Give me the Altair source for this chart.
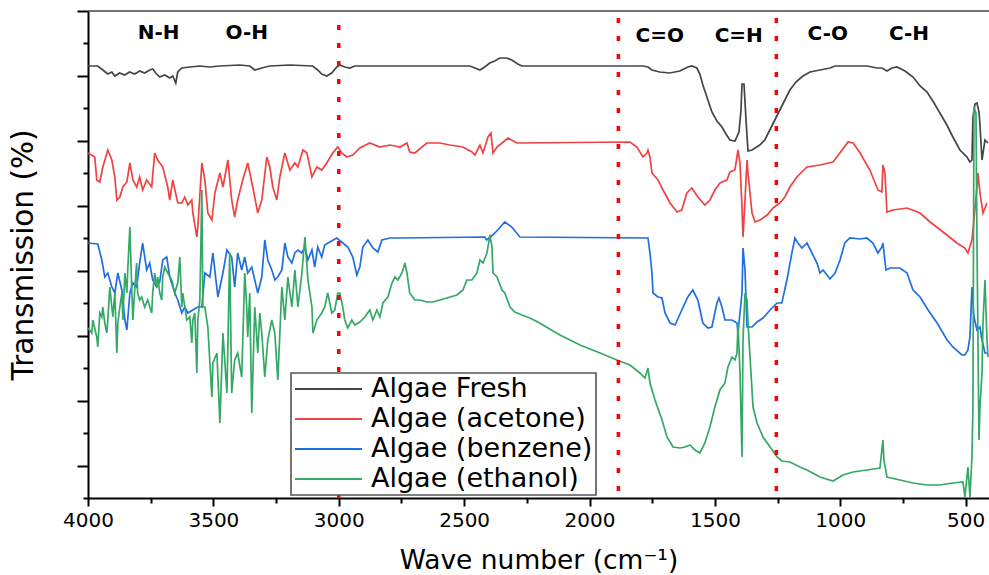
import altair as alt
import pandas as pd

# ---------------- data ----------------
SERIES = ["Algae Fresh", "Algae (acetone)", "Algae (benzene)", "Algae (ethanol)"]
COLORS = ["#454545", "#ef4242", "#1f6fe0", "#34a866"]

FRESH_WN = [4000, 3961, 3941, 3921, 3905, 3893, 3874, 3854, 3834, 3814, 3794, 3774, 3754, 3742, 3730, 3714,
            3694, 3674, 3662, 3650, 3642, 3626, 3594, 3554, 3515, 3475, 3395, 3355, 3335, 3307, 3275, 3195,
            3104, 3084, 3068, 3048, 3028, 3008, 2996, 2976, 2956, 2936, 2477, 2457, 2437, 2418, 2398, 2378,
            2358, 2330, 2310, 2286, 2270, 1787, 1767, 1751, 1720, 1680, 1640, 1608, 1592, 1572, 1560, 1548,
            1532, 1512, 1492, 1472, 1456, 1440, 1420, 1404, 1396, 1392, 1384, 1376, 1368, 1352, 1321, 1301,
            1281, 1261, 1241, 1221, 1201, 1177, 1149, 1121, 1081, 1041, 1021, 894, 854, 834, 814, 794, 774,
            742, 710, 682, 654, 626, 603, 575, 551, 523, 495, 483, 475, 471, 463, 455, 447, 443, 435, 423, 411]
FRESH_T = [432, 432, 428, 424, 426, 422, 425, 423, 426, 424, 427, 425, 428, 429, 425, 421,
           423, 420, 422, 415, 426, 430, 431, 432, 431, 432, 433, 432, 428, 430, 432, 433,
           432, 428, 424, 422, 425, 431, 433, 431, 430, 432, 432, 430, 428, 431, 435, 437,
           440, 440, 438, 434, 432, 432, 431, 428, 426, 425, 427, 431, 432, 430, 424, 413,
           401, 386, 377, 371, 364, 358, 357, 366, 388, 414, 414, 378, 347, 348, 353, 358,
           368, 378, 388, 398, 408, 416, 422, 426, 428, 430, 432, 432, 430, 430, 427, 430, 431,
           427, 421, 412, 406, 395, 385, 373, 361, 348, 341, 336, 338, 381, 394, 395, 386, 373, 338, 358, 355]

ACET_WN = [4000, 3973, 3965, 3953, 3941, 3929, 3921, 3905, 3893, 3885, 3873, 3861, 3845, 3833, 3821, 3806,
           3794, 3782, 3766, 3746, 3734, 3722, 3702, 3682, 3674, 3662, 3642, 3626, 3614, 3602, 3586, 3582,
           3566, 3562, 3546, 3534, 3522, 3506, 3494, 3474, 3462, 3442, 3427, 3415, 3403, 3383, 3363, 3343,
           3323, 3307, 3287, 3275, 3263, 3247, 3235, 3215, 3195, 3175, 3163, 3143, 3127, 3107, 3087, 3068,
           3048, 3024, 3004, 2988, 2968, 2944, 2916, 2876, 2836, 2796, 2756, 2728, 2717, 2697, 2649, 2597,
           2557, 2505, 2469, 2457, 2437, 2425, 2405, 2393, 2385, 2369, 2349, 2325, 2290, 1839, 1811, 1787,
           1771, 1767, 1759, 1751, 1727, 1707, 1679, 1651, 1632, 1612, 1592, 1568, 1540, 1520, 1500, 1480,
           1452, 1440, 1420, 1408, 1400, 1392, 1388, 1380, 1372, 1368, 1352, 1340, 1320, 1292, 1268, 1241,
           1221, 1201, 1173, 1133, 1081, 1029, 993, 969, 949, 921, 882, 850, 834, 830, 822, 814, 790, 734,
           682, 642, 590, 535, 503, 491, 475, 467, 455, 451, 443, 431, 415]
ACET_T = [345, 341, 318, 316, 331, 341, 348, 338, 321, 298, 301, 311, 316, 335, 318, 311,
          321, 308, 318, 311, 345, 338, 331, 311, 298, 318, 295, 295, 301, 293, 298, 285,
          261, 271, 335, 318, 285, 278, 305, 325, 311, 338, 298, 281, 298, 318, 335, 311,
          285, 298, 341, 331, 311, 298, 321, 345, 328, 335, 331, 348, 345, 321, 331, 328,
          335, 345, 351, 345, 341, 343, 350, 355, 351, 353, 351, 355, 346, 345, 355, 355,
          353, 351, 346, 343, 353, 345, 361, 365, 345, 351, 355, 360, 355, 356, 351, 341,
          345, 348, 341, 325, 318, 308, 295, 286, 288, 305, 310, 301, 293, 298, 308, 315,
          318, 326, 328, 348, 335, 291, 261, 298, 338, 325, 285, 276, 278, 283, 290, 295,
          301, 311, 321, 331, 333, 336, 348, 356, 355, 345, 328, 308, 306, 333, 325, 286, 288, 290,
          285, 276, 266, 255, 250, 245, 258, 278, 311, 325, 305, 285, 295]

BENZ_WN = [4000, 3961, 3945, 3933, 3921, 3905, 3893, 3881, 3865, 3853, 3845, 3833, 3821, 3806, 3794, 3782,
           3766, 3754, 3742, 3726, 3714, 3702, 3686, 3674, 3654, 3642, 3626, 3614, 3602, 3582, 3562, 3546,
           3534, 3514, 3502, 3482, 3462, 3446, 3427, 3415, 3403, 3387, 3375, 3363, 3347, 3335, 3323, 3307,
           3295, 3283, 3267, 3255, 3243, 3227, 3215, 3203, 3187, 3175, 3163, 3147, 3135, 3123, 3107, 3096,
           3084, 3068, 3056, 3036, 3008, 2984, 2964, 2944, 2928, 2916, 2904, 2884, 2864, 2844, 2828, 2796,
           2756, 2418, 2410, 2386, 2366, 2338, 2310, 2278, 1767, 1759, 1751, 1747, 1727, 1711, 1699, 1679,
           1659, 1632, 1608, 1588, 1568, 1548, 1528, 1512, 1492, 1484, 1472, 1460, 1432, 1412, 1408, 1392,
           1388, 1380, 1372, 1352, 1332, 1308, 1280, 1252, 1233, 1213, 1193, 1181, 1169, 1153, 1133, 1113,
           1093, 1081, 1069, 1053, 1041, 1021, 1001, 982, 962, 922, 894, 870, 850, 834, 830, 818, 802, 762,
           734, 710, 682, 650, 614, 574, 551, 515, 503, 491, 483, 475, 467, 455, 443, 435, 423, 411]
BENZ_T = [255, 254, 238, 221, 225, 211, 205, 225, 208, 178, 168, 205, 215, 211, 235, 255,
          228, 235, 218, 211, 216, 238, 241, 221, 205, 198, 185, 191, 185, 188, 191, 191,
          225, 221, 245, 201, 225, 248, 241, 211, 245, 228, 241, 225, 231, 218, 205, 221,
          258, 238, 228, 218, 221, 228, 255, 241, 235, 245, 248, 245, 251, 238, 248, 231,
          251, 241, 253, 256, 260, 255, 251, 241, 223, 231, 251, 258, 250, 246, 258, 260,
          260, 261, 258, 263, 268, 276, 271, 261, 260, 245, 225, 205, 201, 200, 185, 175,
          173, 188, 201, 208, 198, 175, 170, 171, 195, 200, 191, 178, 178, 175, 165, 205,
          250, 228, 171, 171, 176, 180, 188, 195, 195, 218, 245, 260, 255, 250, 255, 245,
          235, 225, 228, 223, 219, 225, 238, 255, 260, 259, 260, 255, 245, 251, 255, 228, 230, 230,
          225, 208, 201, 188, 175, 158, 151, 143, 143, 148, 161, 211, 181, 168, 171, 158, 145, 145]

ETH_WN = [4000, 3985, 3981, 3965, 3961, 3953, 3945, 3941, 3933, 3925, 3921, 3913, 3905, 3901, 3893, 3885,
          3881, 3873, 3865, 3861, 3853, 3845, 3841, 3833, 3825, 3821, 3813, 3806, 3802, 3794, 3786, 3774,
          3762, 3746, 3742, 3734, 3726, 3722, 3714, 3706, 3702, 3694, 3682, 3666, 3654, 3642, 3634, 3626,
          3622, 3614, 3606, 3594, 3586, 3582, 3574, 3566, 3562, 3554, 3546, 3542, 3534, 3522, 3506, 3502,
          3486, 3474, 3462, 3446, 3435, 3427, 3415, 3403, 3387, 3375, 3367, 3363, 3355, 3347, 3335, 3323,
          3315, 3307, 3295, 3283, 3267, 3255, 3243, 3227, 3215, 3203, 3187, 3175, 3163, 3147, 3135, 3123,
          3107, 3103, 3087, 3068, 3056, 3044, 3028, 3016, 3004, 2996, 2984, 2976, 2964, 2948, 2936, 2916,
          2896, 2876, 2864, 2848, 2836, 2824, 2804, 2788, 2776, 2764, 2748, 2736, 2728, 2717, 2697, 2677,
          2649, 2625, 2597, 2569, 2529, 2505, 2489, 2469, 2449, 2437, 2425, 2409, 2397, 2389, 2385, 2369,
          2349, 2338, 2317, 2298, 2270, 2238, 2206, 2118, 2038, 1958, 1891, 1839, 1799, 1779, 1767, 1759,
          1739, 1711, 1691, 1667, 1639, 1619, 1599, 1580, 1560, 1540, 1520, 1500, 1480, 1460, 1448, 1432,
          1420, 1412, 1408, 1400, 1392, 1388, 1380, 1372, 1368, 1360, 1348, 1332, 1308, 1280, 1252, 1233,
          1201, 1161, 1133, 1081, 1029, 989, 949, 894, 842, 830, 826, 814, 762, 710, 654, 603, 551, 511,
          503, 491, 483, 475, 471, 467, 459, 455, 447, 443, 435, 431, 423, 415, 411]
ETH_T = [170, 165, 178, 161, 151, 185, 181, 191, 175, 165, 178, 211, 191, 181, 205, 145,
         175, 191, 205, 178, 225, 205, 231, 271, 205, 178, 211, 235, 205, 198, 201, 191,
         198, 185, 205, 225, 211, 221, 205, 198, 221, 231, 225, 218, 205, 215, 241, 191,
         205, 191, 178, 181, 155, 178, 185, 125, 178, 198, 308, 191, 191, 171, 101, 135,
         145, 75, 165, 105, 245, 105, 138, 145, 121, 225, 191, 161, 205, 85, 191, 145,
         185, 165, 121, 158, 178, 165, 118, 211, 178, 221, 191, 228, 191, 225, 261, 218,
         191, 165, 178, 185, 191, 205, 185, 188, 205, 205, 191, 178, 170, 178, 173, 176,
         181, 188, 178, 188, 181, 195, 201, 215, 221, 218, 225, 235, 225, 205, 198, 198,
         196, 196, 198, 200, 203, 208, 218, 218, 225, 238, 235, 245, 263, 251, 225, 221,
         208, 205, 191, 186, 183, 180, 176, 163, 153, 145, 138, 133, 125, 120, 130, 115,
         98, 78, 61, 51, 50, 51, 53, 48, 45, 55, 71, 91, 108, 115, 131, 141,
         138, 145, 175, 125, 41, 158, 205, 198, 175, 141, 91, 75, 61, 51, 41, 37,
         36, 31, 28, 21, 17, 23, 26, 28, 30, 58, 38, 21, 18, 15, 13, 13, 15, 16,
         1, 31, 1, 41, 91, 391, 385, 258, 58, 91, 125, 175, 218, 158, 141]

# band-assignment dividers and labels
DIV_WN = [3000, 1885, 1255]
DIV_TOP = [473, 480, 480]
ANNOT_LABELS = ["N-H", "O-H", "C=O", "C=H", "C-O", "C-H"]
ANNOT_WN = [3718, 3367, 1720, 1405, 1050, 726]
ANNOT_T = [465, 465, 462, 462, 464, 464]

# axis ticks
X_TICKS = [4000, 3750, 3500, 3250, 3000, 2750, 2500, 2250, 2000, 1750, 1500, 1250, 1000, 750, 500]
Y_TICKS = [0, 32.47, 64.93, 97.4, 129.87, 162.33, 194.8, 227.27, 259.73, 292.2,
           324.67, 357.13, 389.6, 422.07, 454.53, 487]
X_DOMAIN = [4000, 407]
Y_DOMAIN = [0, 487]

# ---------------- tables ----------------
rows = []
for name, wn, t in [(SERIES[0], FRESH_WN, FRESH_T), (SERIES[1], ACET_WN, ACET_T),
                    (SERIES[2], BENZ_WN, BENZ_T), (SERIES[3], ETH_WN, ETH_T)]:
    for a, b in zip(wn, t):
        rows.append({"series": name, "wn": a, "t": b})
spectra = pd.DataFrame(rows)
dividers = pd.DataFrame({"wn": DIV_WN, "t": DIV_TOP, "bottom": [0] * len(DIV_WN)})
annots = pd.DataFrame({"label": ANNOT_LABELS, "wn": ANNOT_WN, "t": ANNOT_T})
frame = pd.DataFrame({"wn": [X_DOMAIN[0]], "wn2": [X_DOMAIN[1]], "t": [Y_DOMAIN[1]]})

FONT = "DejaVu Sans"
xscale = alt.Scale(domain=X_DOMAIN, nice=False, zero=False)
yscale = alt.Scale(domain=Y_DOMAIN, nice=False, zero=False)

x_axis = alt.Axis(
    values=X_TICKS, format="d", grid=False,
    labelExpr="datum.value % 500 === 0 ? datum.label : ''",
    labelFont=FONT, labelFontSize=20, labelColor="#000000", labelPadding=4,
    labelFlush=False, labelOverlap=False,
    tickSize={"condition": {"test": "datum.value % 500 === 0", "value": 8}, "value": 5},
    tickWidth=2, tickColor="#000000", domainColor="#000000", domainWidth=2,
    title="Wave number (cm⁻¹)", titleFont=FONT, titleFontSize=26.5, titleFontWeight="normal",
    titleColor="#000000", titleY=62, titleBaseline="middle",
)
y_axis = alt.Axis(
    values=Y_TICKS, labels=False, grid=False,
    tickSize={"condition": {"test": "round(datum.value / 32.4667) % 2 === 1", "value": 11}, "value": 5},
    tickWidth=2, tickColor="#000000", domainColor="#000000", domainWidth=2,
    title="Transmission (%)", titleFont=FONT, titleFontSize=29.5, titleFontWeight="normal",
    titleColor="#000000", titleX=-65, titleBaseline="middle", titleAngle=-90,
)

X_ENC = alt.X("wn:Q", scale=xscale, axis=x_axis)
Y_ENC = alt.Y("t:Q", scale=yscale, axis=y_axis)

top_frame = alt.Chart(frame).mark_rule(color="#444444", strokeWidth=1.4).encode(
    x=X_ENC, x2="wn2:Q", y=Y_ENC,
)

lines = alt.Chart(spectra).mark_line(strokeWidth=1.7).encode(
    x=X_ENC,
    y=Y_ENC,
    color=alt.Color(
        "series:N",
        scale=alt.Scale(domain=SERIES, range=COLORS),
        legend=alt.Legend(
            orient="none", legendX=203, legendY=362, title=None,
            symbolType="stroke", symbolSize=4489, symbolStrokeWidth=2,
            labelFont=FONT, labelFontSize=27, labelColor="#000000", labelLimit=500,
            labelOffset=8, clipHeight=26, rowPadding=3, padding=3,
            strokeColor="#555555", fillColor="#ffffff",
        ),
    ),
)

rules = alt.Chart(dividers).mark_rule(
    color="#ff0000", strokeWidth=3.5, strokeDash=[5, 13]
).encode(
    x=X_ENC,
    y=Y_ENC,
    y2="bottom:Q",
)

labels = alt.Chart(annots).mark_text(
    font=FONT, fontWeight="bold", fontSize=20, color="#000000", align="center", baseline="middle"
).encode(
    x=X_ENC,
    y=Y_ENC,
    text="label:N",
)

chart = alt.layer(lines, top_frame, rules, labels).properties(
    width=901, height=487,
    autosize=alt.AutoSizeParams(type="none"),
    padding={"left": 88, "top": 11, "right": 0, "bottom": 77},
).configure_view(
    strokeWidth=0
).configure_legend(
    strokeWidth=1.6
)

chart.save("out.html", embed_options={"renderer": "svg", "actions": False})
